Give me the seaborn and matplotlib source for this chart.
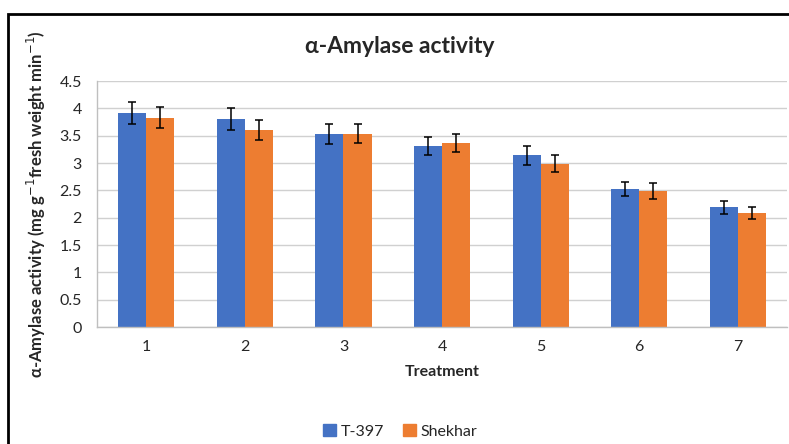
import numpy as np
import matplotlib
matplotlib.use('Agg')
import matplotlib.pyplot as plt
import pandas as pd
import seaborn as sns
from matplotlib.patches import Rectangle

# data
treatments = ['1', '2', '3', '4', '5', '6', '7']
t397 = [3.92, 3.81, 3.53, 3.31, 3.14, 2.53, 2.19]
t397_err = [0.20, 0.20, 0.18, 0.17, 0.17, 0.13, 0.12]
shekhar = [3.83, 3.60, 3.54, 3.37, 2.99, 2.49, 2.09]
shekhar_err = [0.19, 0.18, 0.18, 0.17, 0.16, 0.14, 0.11]
varieties = ['T-397', 'Shekhar']
colors = ['#4472C4', '#ED7D31']

df = pd.DataFrame({
    'Treatment': treatments * 2,
    'Activity': t397 + shekhar,
    'Variety': ['T-397'] * 7 + ['Shekhar'] * 7,
})

sns.set_style('white')
plt.rcParams['font.family'] = ['Lato', 'DejaVu Sans']

fig = plt.figure(figsize=(7.89, 4.44), dpi=100)
ax = fig.add_axes([0.123, 0.2635, 0.8745, 0.554])

sns.barplot(data=df, x='Treatment', y='Activity', hue='Variety',
            hue_order=varieties, palette=colors, width=0.57,
            errorbar=None, saturation=1, linewidth=0, ax=ax, legend=False)

# error bars on top of each bar
for cont, errs in zip(ax.containers, [t397_err, shekhar_err]):
    xs = [b.get_x() + b.get_width() / 2 for b in cont]
    hs = [b.get_height() for b in cont]
    ax.errorbar(xs, hs, yerr=errs, fmt='none', ecolor='black',
                elinewidth=1.1, capsize=3, capthick=1.1, zorder=4)

ax.set_ylim(0, 4.5)
ax.set_yticks(np.arange(0, 4.51, 0.5))
ax.set_yticklabels(['0', '0.5', '1', '1.5', '2', '2.5', '3', '3.5', '4', '4.5'])
ax.set_xlim(-0.5, 6.5)
ax.yaxis.grid(True, color='#D0D0D0', linewidth=1)
ax.set_axisbelow(True)
for s in ['top', 'right']:
    ax.spines[s].set_visible(False)
for s in ['left', 'bottom']:
    ax.spines[s].set_color('#BFBFBF')
    ax.spines[s].set_linewidth(1)
ax.tick_params(axis='y', length=5, color='#BFBFBF', labelsize=11.5, pad=6)
ax.tick_params(axis='x', which='major', length=0, labelsize=11.5, pad=9)
ax.set_xticks(np.arange(-0.5, 6.6, 1), minor=True)
ax.tick_params(axis='x', which='minor', length=5, color='#BFBFBF')

ax.set_xlabel('Treatment', fontsize=11.5, fontweight='bold', labelpad=8)
ax.set_ylabel('α-Amylase activity (mg g$^{-1}$fresh weight min$^{-1}$)',
              fontsize=12, fontweight='bold', labelpad=8)
fig.text(0.507, 0.895, 'α-Amylase activity', ha='center', va='center',
         fontsize=16.5, fontweight='bold')

handles = [plt.Rectangle((0, 0), 1, 1, color=c) for c in colors]
fig.legend(handles, varieties, loc='center', bbox_to_anchor=(0.507, 0.028),
           ncol=2, frameon=False, fontsize=11.5, handlelength=0.8,
           handleheight=0.8, handletextpad=0.3, columnspacing=1.2)

# outer frame of the chart box
fig.patches.append(Rectangle((8 / 789, -0.1), 1.1, 1 - 14 / 444 + 0.1,
                             transform=fig.transFigure, fill=False,
                             edgecolor='black', linewidth=2, zorder=0))

fig.savefig('out.png', dpi=100)
